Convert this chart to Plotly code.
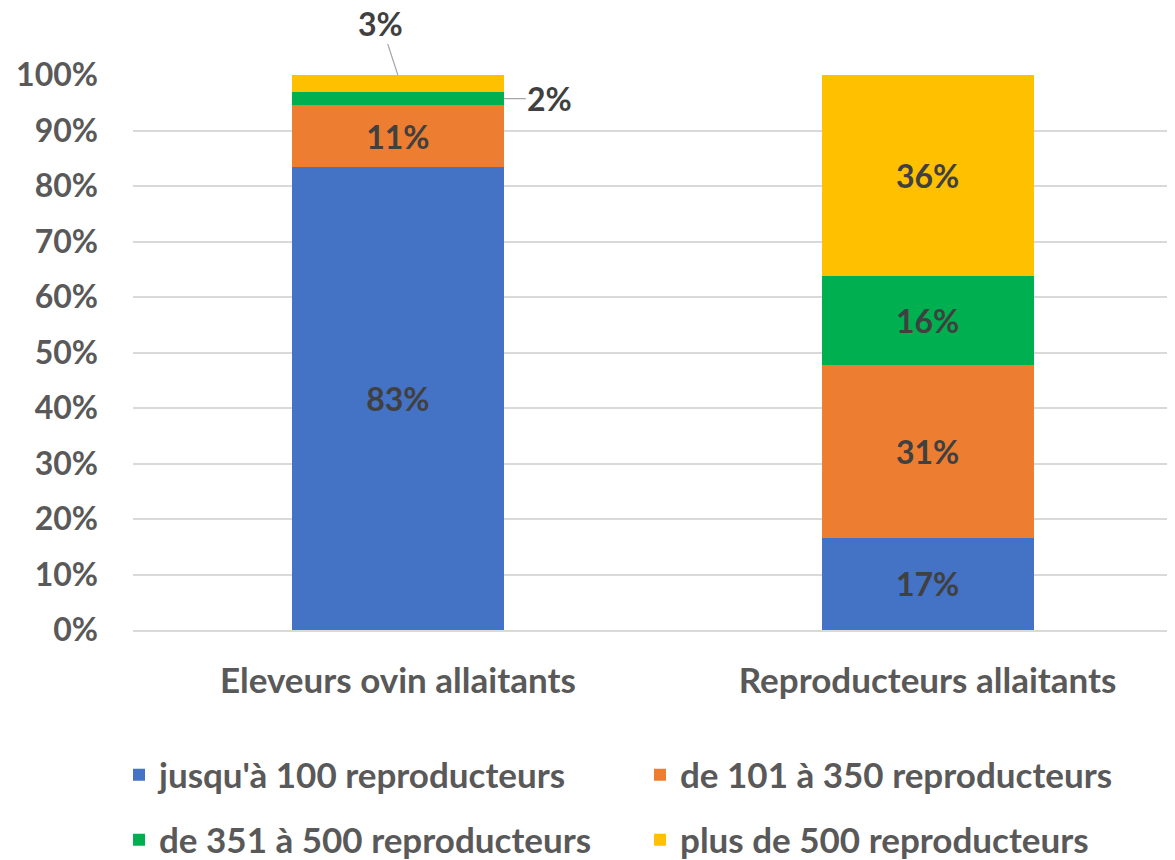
import plotly.graph_objects as go

categories = ["Eleveurs ovin allaitants", "Reproducteurs allaitants"]
series_names = ["jusqu'à 100 reproducteurs", "de 101 à 350 reproducteurs",
                "de 351 à 500 reproducteurs", "plus de 500 reproducteurs"]
values_upto100 = [83.4, 16.6]
values_101_350 = [11.2, 31.2]
values_351_500 = [2.3, 15.9]
values_over500 = [3.1, 36.3]
y_ticks = [0, 10, 20, 30, 40, 50, 60, 70, 80, 90, 100]

colors = ["#4472C4", "#ED7D31", "#00B050", "#FFC000"]
series_values = [values_upto100, values_101_350, values_351_500, values_over500]
FONT = "Lato"
LABEL_COLOR = "#404040"
AXIS_COLOR = "#595959"
label_font = dict(family=FONT, size=32, color=LABEL_COLOR, weight="bold")

W, H = 1167, 852  # page body has an 8px margin

fig = go.Figure()
for i, (name, vals, col) in enumerate(zip(series_names, series_values, colors)):
    texts = ["" if v < 5 else f"{round(v)}%" for v in vals]
    fig.add_trace(go.Bar(
        x=categories, y=vals, name=name, marker=dict(color=col, line=dict(width=0)),
        width=0.4, text=texts, textposition="inside", insidetextanchor="middle",
        textangle=0, textfont=label_font,
        legend="legend" if i < 2 else "legend2",
        hoverinfo="skip",
    ))

# leader-line labels for the small segments of the first bar
base_green = values_upto100[0] + values_101_350[0]
fig.add_annotation(x=0, y=100, xref="x", yref="y", text=f"{round(values_over500[0])}%",
                   showarrow=True, arrowhead=0, arrowwidth=1.2, arrowcolor="#A6A6A6",
                   ax=-17, ay=-52, standoff=0, font=label_font)
fig.add_annotation(x=0.2, y=base_green + values_351_500[0] / 2, xref="x", yref="y",
                   text=f"{round(values_351_500[0])}%",
                   showarrow=True, arrowhead=0, arrowwidth=1.2, arrowcolor="#A6A6A6",
                   ax=46, ay=0, standoff=0, font=label_font)

legend_font = dict(family=FONT, size=35, color=AXIS_COLOR, weight="bold")
common_legend = dict(orientation="h", xref="container", yref="container",
                     x=111 / W, xanchor="left", yanchor="middle",
                     entrywidth=476, entrywidthmode="pixels", font=legend_font,
                     itemclick=False, itemdoubleclick=False, traceorder="normal",
                     bgcolor="rgba(0,0,0,0)")
fig.update_layout(
    width=W, height=H,
    margin=dict(l=125, r=0, t=67, b=230, autoexpand=False),
    paper_bgcolor="white", plot_bgcolor="white",
    barmode="stack",
    legend=dict(common_legend, y=1 - 767 / H),
    legend2=dict(common_legend, y=1 - 832 / H),
    showlegend=True,
)
fig.update_xaxes(range=[-0.5, 1.467], showgrid=False, showline=True, linecolor="#D9D9D9",
                 linewidth=1.5, ticks="", ticklabelstandoff=19,
                 tickfont=dict(family=FONT, size=35, color=AXIS_COLOR, weight="bold"))
fig.update_yaxes(range=[0, 100], tickvals=y_ticks, ticktext=[f"{t}%" for t in y_ticks],
                 showgrid=True, gridcolor="#D9D9D9", gridwidth=1.5, zeroline=False,
                 ticks="", ticklabelstandoff=34,
                 tickfont=dict(family=FONT, size=32, color=AXIS_COLOR, weight="bold"))

fig.write_html("out.html")
